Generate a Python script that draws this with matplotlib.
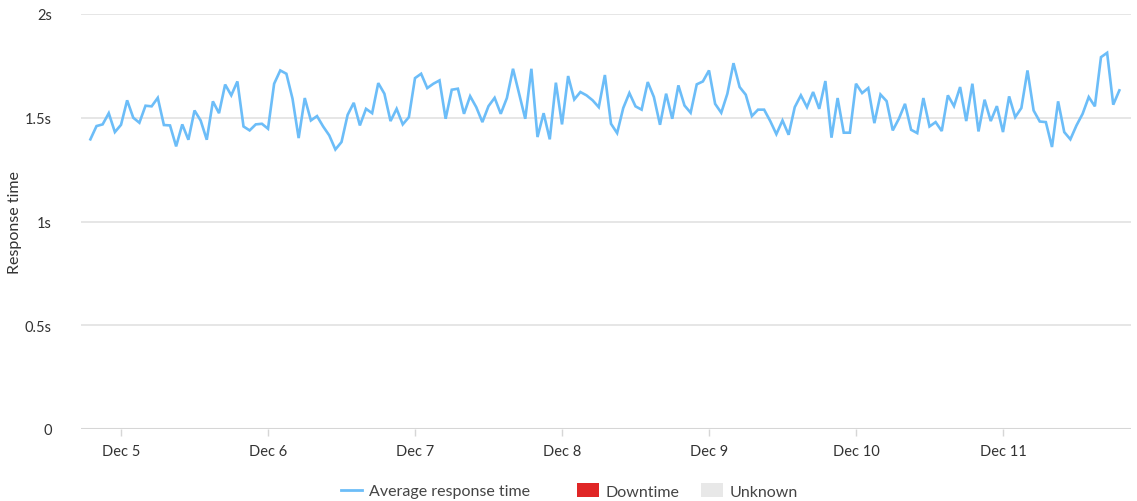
import matplotlib
matplotlib.use("Agg")
import matplotlib.pyplot as plt
from matplotlib.lines import Line2D
from matplotlib.patches import Patch
import pandas as pd

# ---- data ----
start_time = "2023-12-04 19:00"
response_times = [
    1.396, 1.460, 1.468, 1.522, 1.431, 1.466, 1.584, 1.500, 1.476, 1.558,
    1.555, 1.596, 1.465, 1.463, 1.362, 1.468, 1.394, 1.535, 1.487, 1.394,
    1.579, 1.522, 1.660, 1.608, 1.675, 1.458, 1.439, 1.468, 1.471, 1.447,
    1.664, 1.728, 1.712, 1.592, 1.402, 1.595, 1.487, 1.508, 1.458, 1.415,
    1.347, 1.383, 1.514, 1.572, 1.463, 1.543, 1.522, 1.667, 1.616, 1.484,
    1.543, 1.468, 1.503, 1.691, 1.712, 1.643, 1.664, 1.680, 1.495, 1.635,
    1.640, 1.519, 1.604, 1.551, 1.479, 1.556, 1.596, 1.519, 1.595, 1.736,
    1.616, 1.495, 1.736, 1.407, 1.522, 1.396, 1.669, 1.468, 1.701, 1.588,
    1.624, 1.608, 1.584, 1.551, 1.706, 1.471, 1.426, 1.547, 1.619, 1.555,
    1.539, 1.672, 1.600, 1.466, 1.616, 1.495, 1.656, 1.559, 1.524, 1.661,
    1.675, 1.728, 1.567, 1.524, 1.616, 1.763, 1.648, 1.611, 1.508, 1.539,
    1.539, 1.484, 1.421, 1.487, 1.418, 1.551, 1.608, 1.551, 1.624, 1.543,
    1.677, 1.404, 1.595, 1.428, 1.428, 1.664, 1.619, 1.643, 1.474, 1.612,
    1.580, 1.439, 1.495, 1.567, 1.442, 1.426, 1.595, 1.458, 1.479, 1.436,
    1.608, 1.556, 1.648, 1.484, 1.664, 1.434, 1.587, 1.484, 1.556, 1.431,
    1.603, 1.503, 1.547, 1.728, 1.535, 1.482, 1.479, 1.359, 1.579, 1.431,
    1.396, 1.463, 1.519, 1.600, 1.555, 1.792, 1.813, 1.563, 1.632,
]
times = pd.date_range(start_time, periods=len(response_times), freq="h")
y_ticks = [0, 0.5, 1, 1.5, 2]
y_tick_labels = ["0", "0.5s", "1s", "1.5s", "2s"]
x_tick_dates = pd.date_range("2023-12-05", "2023-12-11", freq="D")
x_tick_labels = ["Dec 5", "Dec 6", "Dec 7", "Dec 8", "Dec 9", "Dec 10", "Dec 11"]
legend_labels = ["Average response time", "Downtime", "Unknown"]

# ---- style ----
plt.rcParams['font.family'] = ['Lato', 'DejaVu Sans']
line_color = "#6cbdf8"
text_color = "#333333"
grid_color = "#e2e2e2"

fig = plt.figure(figsize=(11.37, 5.02), dpi=100)
ax = fig.add_axes([81 / 1137, 1 - 430 / 502, (1131 - 81) / 1137, (430 - 15) / 502])

ax.plot(times, response_times, color=line_color, linewidth=1.9, solid_joinstyle="miter")

ax.set_ylim(0, 2)
ax.set_yticks(y_ticks)
ax.set_yticklabels(y_tick_labels)
ax.set_xlim(pd.Timestamp("2023-12-04 17:28"), pd.Timestamp("2023-12-11 20:54"))
ax.set_xticks(x_tick_dates)
ax.set_xticklabels(x_tick_labels)

ax.grid(axis="y", color=grid_color, linewidth=1.2)
ax.set_axisbelow(True)
for s in ["top", "right", "left", "bottom"]:
    ax.spines[s].set_visible(False)
ax.axhline(0, color="#d6d6d6", linewidth=1.5, zorder=1)

ax.tick_params(axis="y", length=0, pad=21, labelsize=10.5, labelcolor=text_color)
ax.tick_params(axis="x", length=5, width=1, color="#d6d6d6", pad=6,
               labelsize=10.5, labelcolor=text_color)

ax.set_ylabel("Response time", fontsize=11.5, color=text_color)
ax.yaxis.set_label_coords(-0.056, 0.5)

line_handle = Line2D([0], [0], color=line_color, linewidth=2)
down_handle = Patch(facecolor="#e02626", edgecolor="none")
unk_handle = Patch(facecolor="#e8e8e8", edgecolor="none")

leg_y = 1 - 492 / 502
leg1 = fig.legend([line_handle], legend_labels[:1], loc="center left",
                  bbox_to_anchor=(341 / 1137, leg_y), frameon=False, fontsize=11.5,
                  handlelength=1.31, handletextpad=0.44, borderpad=0, borderaxespad=0)
leg2 = fig.legend([down_handle, unk_handle], legend_labels[1:], loc="center left",
                  bbox_to_anchor=(577 / 1137, leg_y), ncol=2, frameon=False, fontsize=11.5,
                  handlelength=1.375, handleheight=1.0, handletextpad=0.38,
                  columnspacing=1.4, borderpad=0, borderaxespad=0)
for leg in (leg1, leg2):
    for t in leg.get_texts():
        t.set_color("#444444")

fig.savefig("out.png", dpi=100)
